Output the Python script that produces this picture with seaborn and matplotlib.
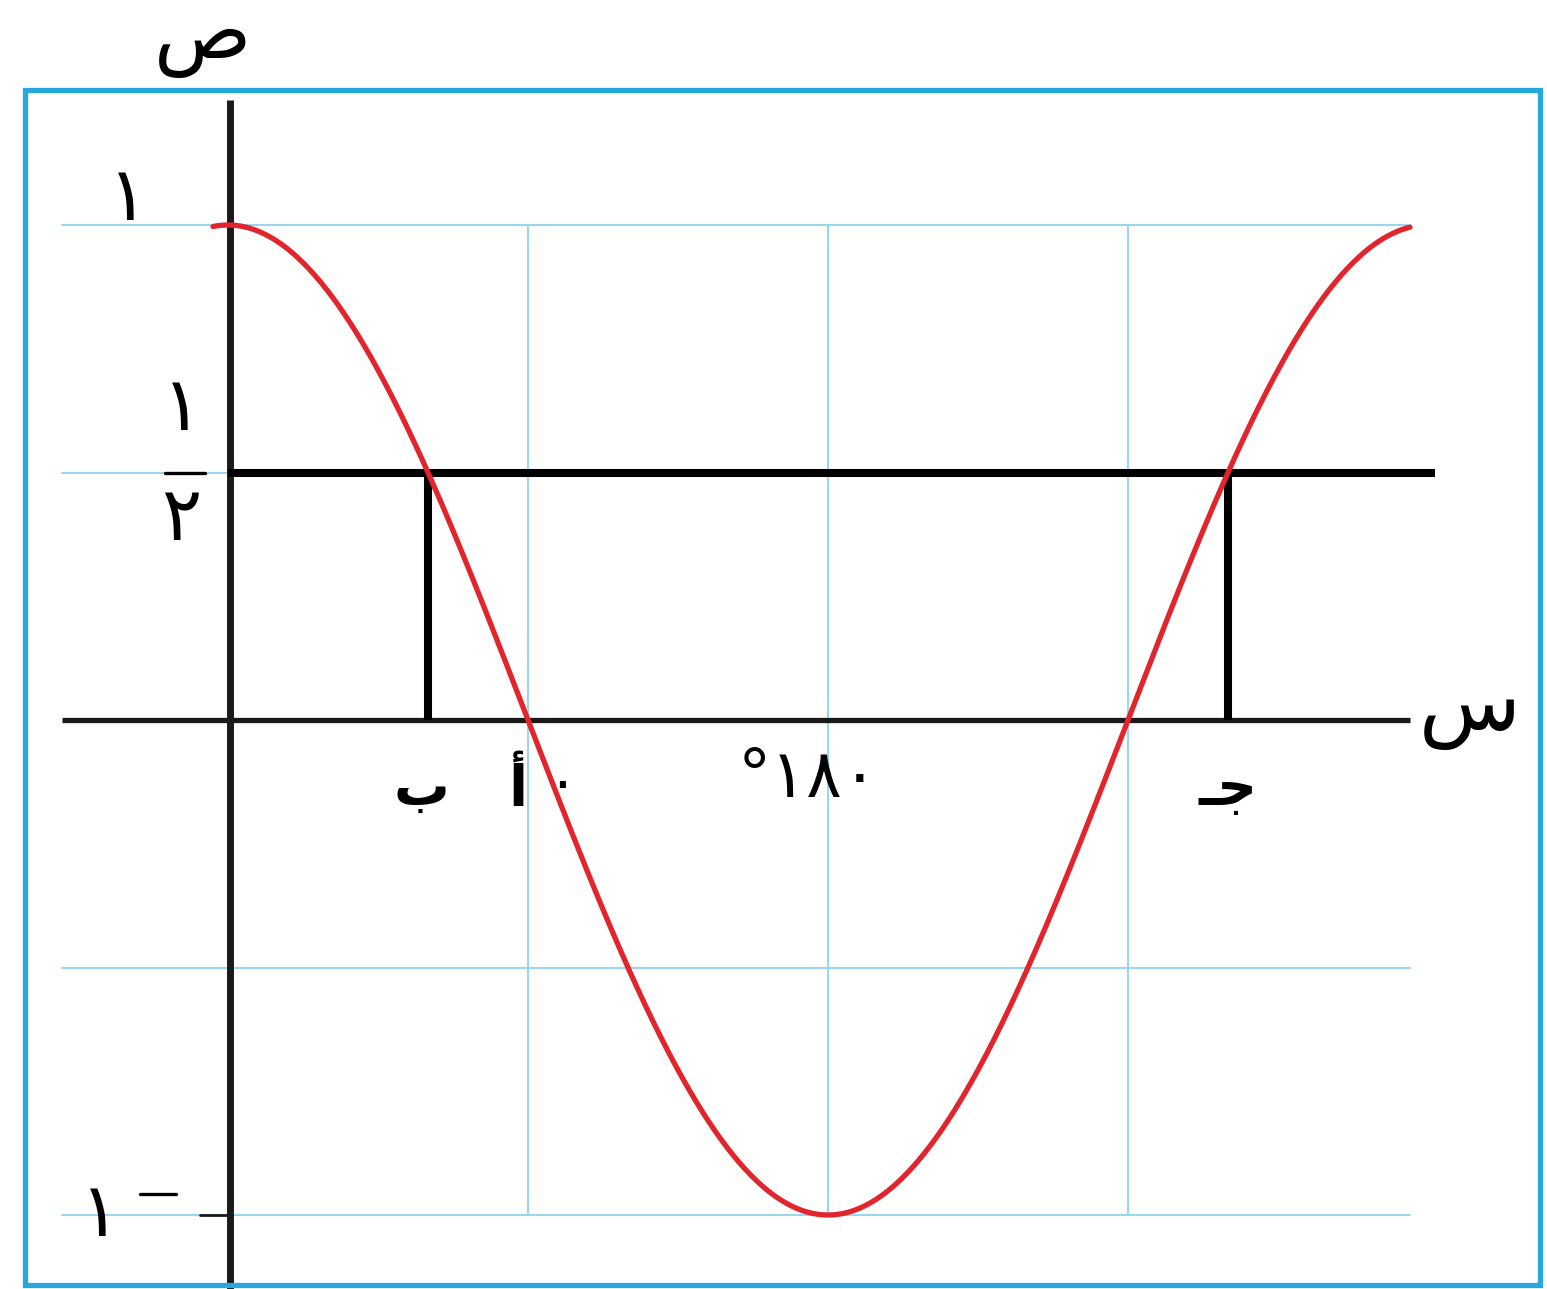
import numpy as np
import pandas as pd
import matplotlib
matplotlib.use("Agg")
import matplotlib.pyplot as plt
from matplotlib.patches import Rectangle
import seaborn as sns

# Graph of y = cos(x) over one period, with the line y = 1/2 and its intersections
x_start, x_end = -4.5, 354.6            # degrees spanned by the drawn curve
grid_x = [90, 180, 270]                  # light vertical grid lines (degrees)
grid_y_full = [1.0, -0.5, -1.0]          # light horizontal grid lines
half_level = 0.5                         # the horizontal line y = 1/2
intersections = [60, 300]                # where cos(x) = 1/2

point_labels = ["ب", "أ", "°١٨٠", "ـﺟ"]
point_label_x = [58, 87, 174, 300]

sns.set_theme(style="white")
plt.rcParams["font.family"] = ["DejaVu Sans"]

W, H = 1547, 1289
fig = plt.figure(figsize=(W / 100, H / 100), dpi=100)
ax = fig.add_axes([0, 0, 1, 1])

# pixel geometry of the drawing
px_per_deg = 300 / 90
x0_px, y0_px, px_per_unit = 228, 720, 495
ax.set_xlim((0 - x0_px) / px_per_deg, (W - x0_px) / px_per_deg)
ax.set_ylim((y0_px - H) / px_per_unit, y0_px / px_per_unit)
ax.axis("off")

def dx(px):
    return (px - x0_px) / px_per_deg

def dy(py):
    return (y0_px - py) / px_per_unit

grid_c = "#9ad6f0"
left_px = dx(62)
right_px = dx(1410)
for gy in grid_y_full:
    ax.plot([left_px, right_px], [gy, gy], color=grid_c, lw=1.5, zorder=1)
ax.plot([left_px, 0], [half_level, half_level], color=grid_c, lw=1.5, zorder=1)
for gx in grid_x:
    ax.plot([gx, gx], [-1, 1], color=grid_c, lw=1.5, zorder=1)

# axes
ax.plot([left_px, right_px], [0, 0], color="#1a1a1a", lw=3.8, zorder=3, solid_capstyle="butt")
ax.plot([0.5, 0.5], [dy(100), dy(1289)], color="#1a1a1a", lw=5.0, zorder=3, solid_capstyle="butt")
ax.plot([dx(200), 0], [-1, -1], color="#1a1a1a", lw=2.0, zorder=3)

# y = 1/2 and the verticals down to the x-axis
ax.plot([0, dx(1435)], [half_level, half_level], color="black", lw=5.8, zorder=4, solid_capstyle="butt")
for xi in intersections:
    ax.plot([xi, xi], [0, half_level], color="black", lw=5.8, zorder=4, solid_capstyle="butt")

# the cosine curve
xs = np.linspace(x_start, x_end, 600)
curve = pd.DataFrame({"x": xs, "y": np.cos(np.radians(xs))})
sns.lineplot(data=curve, x="x", y="y", color="#e2252c", lw=3.8, ax=ax, zorder=6, sort=False)

# axis names
ax.text(dx(203), dy(78), "ص", fontsize=58, ha="center", va="bottom", color="black", zorder=7)
ax.text(dx(1470), dy(710), "س", fontsize=60, ha="center", va="center", color="black", zorder=7)

# y labels
digit_kw = dict(fontsize=54, ha="center", va="center", color="black", zorder=7)
ax.text(dx(128), dy(200), "١", **digit_kw)
ax.text(dx(182), dy(410), "١", **digit_kw)
ax.plot([dx(165), dx(205)], [half_level, half_level], color="black", lw=2.4, zorder=7)
ax.text(dx(182), dy(520), "٢", **digit_kw)
ax.text(dx(100), dy(1215), "١", **digit_kw)
ax.plot([dx(140), dx(176)], [dy(1194), dy(1194)], color="black", lw=2.4, zorder=7)

# x labels
label_y = dy(790)
for lbl, lx in zip(point_labels, point_label_x):
    if lbl.startswith("°"):
        ax.text(lx, dy(778), lbl, fontsize=48, ha="center", va="center", color="black", zorder=5)
    else:
        ax.text(lx, label_y, lbl, fontsize=40, fontweight="bold", ha="center", va="center",
                color="black", zorder=5)
ax.text(dx(562), dy(785), "٠", fontsize=40, ha="center", va="center", color="black", zorder=5)

# frame around the figure
fig.patches.append(Rectangle((25 / W, 1 - 1285 / H), (1540 - 25) / W, (1285 - 90) / H,
                             transform=fig.transFigure, fill=False,
                             edgecolor="#27a7df", lw=3.8, zorder=0))

fig.savefig("out.png", dpi=100)
